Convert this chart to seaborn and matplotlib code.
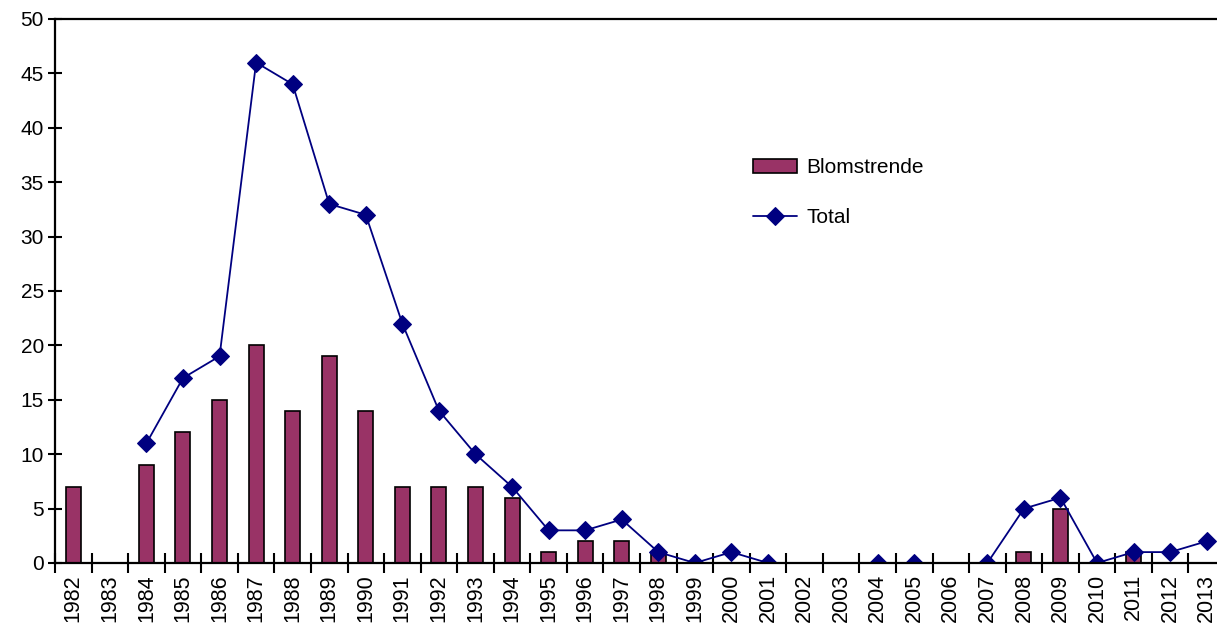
import numpy as np
import pandas as pd
import matplotlib
matplotlib.use("Agg")
import matplotlib.pyplot as plt
import seaborn as sns
from matplotlib.ticker import FixedLocator, NullFormatter

years = list(range(1982, 2014))
nan = np.nan
blomstrende = [7, nan, 9, 12, 15, 20, 14, 19, 14, 7, 7, 7, 6, 1, 2, 2, 1,
               nan, nan, nan, nan, nan, nan, nan, nan, nan, 1, 5, nan, 1, nan, nan]
total = [nan, nan, 11, 17, 19, 46, 44, 33, 32, 22, 14, 10, 7, 3, 3, 4, 1,
         0, 1, 0, nan, nan, 0, 0, nan, 0, 5, 6, 0, 1, 1, 2]

sns.set_theme(style="white")
plt.rcParams['font.family'] = ['Liberation Sans', 'DejaVu Sans']
plt.rcParams['text.color'] = 'black'
plt.rcParams['xtick.color'] = 'black'
plt.rcParams['ytick.color'] = 'black'

df = pd.DataFrame({"year": [str(y) for y in years], "pos": np.arange(len(years)),
                   "Blomstrende": blomstrende, "Total": total})

fig = plt.figure(figsize=(12.17, 6.27), dpi=100)
ax = fig.add_axes([0.0452, 0.1021, 0.9614, 0.8676])

sns.barplot(data=df, x="year", y="Blomstrende", order=df["year"], color="#993366",
            saturation=1, width=0.41, edgecolor="black", linewidth=1.2, ax=ax,
            label="Blomstrende")
sns.lineplot(data=df, x="pos", y="Total", color="#000080", marker="D", markersize=9,
             markeredgecolor="#000080", linewidth=1.3, ax=ax, label="Total")

ax.set_xlim(-0.5, len(years) - 0.5)
ax.set_ylim(0, 50)
ax.set_yticks(range(0, 51, 5))
ax.set_xlabel("")
ax.set_ylabel("")

ax.xaxis.set_major_locator(FixedLocator(np.arange(-0.5, len(years), 1.0)))
ax.xaxis.set_major_formatter(NullFormatter())
ax.xaxis.set_minor_locator(FixedLocator(np.arange(len(years))))
ax.set_xticklabels(df["year"], minor=True, rotation=90)
ax.tick_params(axis="x", which="major", direction="inout", length=14, width=1.5,
               color="black", bottom=True)
ax.tick_params(axis="x", which="minor", length=0, labelsize=15.5, pad=8, bottom=True)
ax.tick_params(axis="y", which="major", direction="inout", length=10, width=1.5,
               color="black", labelsize=15, left=True, pad=3)

ax.spines["right"].set_visible(False)
for s in ["left", "bottom", "top"]:
    ax.spines[s].set_visible(True)
    ax.spines[s].set_color("black")
    ax.spines[s].set_linewidth(1.6)

h, l = ax.get_legend_handles_labels()
order = [l.index("Blomstrende"), l.index("Total")]
ax.legend([h[i] for i in order], [l[i] for i in order],
          loc="upper left", bbox_to_anchor=(0.612, 0.761), bbox_transform=fig.transFigure,
          borderaxespad=0, frameon=False, fontsize=15,
          labelspacing=1.5, handlelength=2.1, handletextpad=0.45)

fig.savefig("out.png", dpi=100)
